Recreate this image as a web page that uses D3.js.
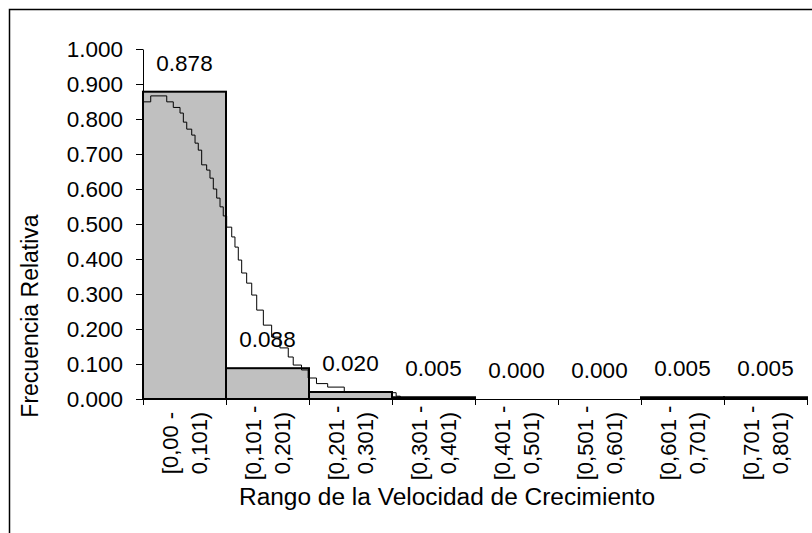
<!DOCTYPE html>
<html>
<head>
<meta charset="utf-8">
<script src="https://cdn.jsdelivr.net/npm/d3@7"></script>
<style>
  body { margin: 0; background: #fff; }
  text { font-family: "Liberation Sans", Arial, sans-serif; fill: #000; }
</style>
</head>
<body>
<div id="chart"></div>
<script>
// datos: frecuencia relativa por rango
const categories = ["[0,00 -|0,101)", "[0,101 -|0,201)", "[0,201 -|0,301)", "[0,301 -|0,401)",
                    "[0,401 -|0,501)", "[0,501 -|0,601)", "[0,601 -|0,701)", "[0,701 -|0,801)"];
const frecuencias = [0.878, 0.088, 0.020, 0.005, 0.000, 0.000, 0.005, 0.005];
const yTicks = [0, 0.1, 0.2, 0.3, 0.4, 0.5, 0.6, 0.7, 0.8, 0.9, 1.0];
const xBounds = [0, 0.1, 0.2, 0.3, 0.4, 0.5, 0.6, 0.7, 0.8];

// curva ajustada (escalonada)
const curvaX = [0, 0.0093, 0.0286, 0.0365, 0.0446, 0.0486, 0.0527, 0.0587, 0.0627, 0.0666, 0.0707,
                0.0767, 0.0807, 0.0847, 0.0888, 0.0928, 0.0967, 0.1008, 0.1069, 0.1108, 0.1148,
                0.1189, 0.1249, 0.131, 0.137, 0.145, 0.155, 0.165, 0.175, 0.181, 0.191, 0.199,
                0.209, 0.2225, 0.2425, 0.300, 0.305, 0.310, 0.320];
const curvaY = [0.849, 0.866, 0.849, 0.833, 0.817, 0.791, 0.771, 0.754, 0.731, 0.711, 0.669,
                0.654, 0.631, 0.600, 0.574, 0.549, 0.523, 0.491, 0.463, 0.434, 0.397, 0.360,
                0.331, 0.297, 0.254, 0.211, 0.177, 0.146, 0.120, 0.097, 0.083, 0.060, 0.044,
                0.034, 0.021, 0.018, 0.008, 0.000, 0.000];

const W = 812, H = 533;
const plot = { left: 143, right: 807, top: 49, bottom: 399 };

const svg = d3.select("#chart").append("svg")
  .attr("width", W).attr("height", H);

// marco exterior
svg.append("rect")
  .attr("x", 9.5).attr("y", 9.5)
  .attr("width", 900).attr("height", 600)
  .attr("fill", "none").attr("stroke", "#000").attr("stroke-width", 1.5);

const x = d3.scaleBand().domain(categories).range([plot.left, plot.right]).padding(0);
const xLin = d3.scaleLinear().domain([0, 0.8]).range([plot.left, plot.right]);
const y = d3.scaleLinear().domain([0, 1]).range([plot.bottom, plot.top]);

// barras
svg.selectAll(".bar")
  .data(frecuencias)
  .enter().append("rect")
  .attr("class", "bar")
  .attr("x", (d, i) => x(categories[i]))
  .attr("y", d => y(d))
  .attr("width", x.bandwidth())
  .attr("height", d => y(0) - y(d))
  .attr("fill", "#c0c0c0")
  .attr("stroke", "#000")
  .attr("stroke-width", 2);

// curva
const line = d3.line()
  .x(d => xLin(d[0]))
  .y(d => y(d[1]))
  .curve(d3.curveStepAfter);

svg.append("path")
  .datum(curvaX.map((v, i) => [v, curvaY[i]]))
  .attr("fill", "none")
  .attr("stroke", "#000")
  .attr("stroke-width", 1)
  .attr("d", line);

// etiquetas de valores
svg.selectAll(".val")
  .data(frecuencias)
  .enter().append("text")
  .attr("class", "val")
  .attr("x", (d, i) => x(categories[i]) + x.bandwidth() / 2)
  .attr("y", d => y(d) - 21)
  .attr("text-anchor", "middle")
  .attr("font-size", 22.5)
  .text(d => d3.format(".3f")(d));

// eje y
const yAxis = svg.append("g")
  .attr("transform", `translate(${plot.left},0)`)
  .call(d3.axisLeft(y).tickValues(yTicks).tickFormat(d3.format(".3f"))
    .tickSize(7).tickSizeOuter(0).tickPadding(13));
yAxis.selectAll("text").attr("font-size", 22.5).attr("font-family", null);
yAxis.selectAll("path, line").attr("stroke", "#000");

// eje x
const xAxis = svg.append("g")
  .attr("transform", `translate(0,${plot.bottom})`)
  .call(d3.axisBottom(xLin).tickValues(xBounds).tickFormat("").tickSize(6).tickSizeOuter(0));
xAxis.selectAll("path, line").attr("stroke", "#000");

// etiquetas de categoria (rotadas, dos lineas)
const catLabels = svg.selectAll(".cat")
  .data(categories)
  .enter().append("text")
  .attr("class", "cat")
  .attr("font-size", 22)
  .attr("text-anchor", "middle")
  .attr("transform", d => `translate(${x(d) + x.bandwidth() / 2},443) rotate(-90)`);
catLabels.append("tspan").attr("x", 0).attr("y", -7).text(d => d.split("|")[0]);
catLabels.append("tspan").attr("x", 0).attr("y", 22).text(d => d.split("|")[1]);

// titulos de ejes
svg.append("text")
  .attr("transform", "translate(38,316) rotate(-90)")
  .attr("text-anchor", "middle")
  .attr("font-size", 23)
  .text("Frecuencia Relativa");

svg.append("text")
  .attr("x", 447)
  .attr("y", 505)
  .attr("text-anchor", "middle")
  .attr("font-size", 23.5)
  .attr("textLength", 416)
  .attr("lengthAdjust", "spacingAndGlyphs")
  .text("Rango de la Velocidad de Crecimiento");
</script>
</body>
</html>
